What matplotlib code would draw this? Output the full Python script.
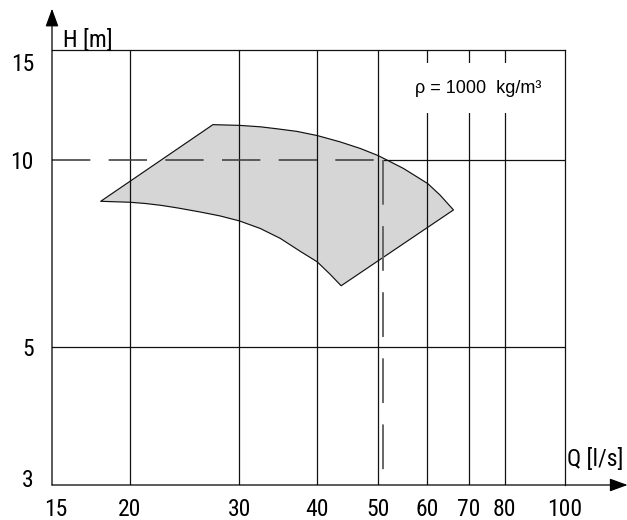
import matplotlib
matplotlib.use("Agg")
import matplotlib.pyplot as plt
from matplotlib.patches import Polygon
import matplotlib.transforms as mtransforms
import matplotlib.font_manager as fm
import numpy as np

# ---- data ----
x_ticks = [15, 20, 30, 40, 50, 60, 70, 80, 100]
x_labels = ["15", "20", "30", "40", "50", "60", "70", "80", "100"]
y_ticks = [3, 5, 10, 15]
y_labels = ["3", "5", "10", "15"]
v_grid = [20, 30, 40, 50, 60, 70, 80]

# upper curve of operating range (Q [l/s], H [m])
top_q = [27.2, 30.0, 32.4, 34.4, 37.1, 40.0, 43.5, 46.9, 50.1, 51.7, 55.0, 60.2, 63.0, 66.2]
top_h = [11.38, 11.35, 11.29, 11.21, 11.10, 10.93, 10.68, 10.42, 10.15, 9.99, 9.68, 9.15, 8.77, 8.30]
# lower curve of operating range, from left point to bottom point
bot_q = [17.96, 20.0, 21.2, 22.5, 23.9, 25.9, 27.9, 30.0, 32.4, 34.9, 37.5, 40.0, 41.9, 43.7]
bot_h = [8.57, 8.54, 8.50, 8.44, 8.36, 8.24, 8.12, 7.97, 7.75, 7.47, 7.13, 6.85, 6.55, 6.27]

duty_q = 51.0
duty_h = 10.0

# ---- font choice: condensed sans if available ----
names = {f.name for f in fm.fontManager.ttflist}
cond = None
for n in ["Liberation Sans Narrow", "Arial Narrow", "Roboto Condensed", "Open Sans Condensed"]:
    if n in names:
        cond = fm.FontProperties(family=n)
        break
if cond is None:
    for f in fm.fontManager.ttflist:
        if f.name == "DejaVu Sans" and str(f.stretch) in ("condensed", "semi-condensed") and f.weight in (400, "normal", "regular"):
            cond = fm.FontProperties(fname=f.fname)
            break
if cond is not None:
    lab_props = cond.copy()
    lab_size = 17
else:
    lab_props = fm.FontProperties(family=["Liberation Sans", "DejaVu Sans"])
    lab_size = 15.5
lab_props.set_size(lab_size)

plt.rcParams["font.family"] = ["Liberation Sans", "DejaVu Sans"]

fig = plt.figure(figsize=(6.27, 5.2), dpi=100)
ax = fig.add_axes([52/627, 35/520, 513/627, 435/520])
ax.set_xscale("log")
ax.set_yscale("log")
ax.set_xlim(15, 100)
ax.set_ylim(3, 15)

# operating range polygon
poly_q = [bot_q[0]] + top_q + bot_q[::-1]
poly_h = [bot_h[0]] + top_h + bot_h[::-1]
ax.add_patch(Polygon(np.column_stack([poly_q, poly_h]), closed=True,
                     facecolor="#d6d6d6", edgecolor="#111111", lw=0.85,
                     joinstyle="round", zorder=1))

# grid
for q in v_grid:
    ax.axvline(q, color="#111111", lw=0.9, zorder=2)
ax.axhline(5, color="#111111", lw=0.9, zorder=2)
ax.plot([duty_q, 100], [duty_h, duty_h], color="#111111", lw=0.9, zorder=2)

# duty point dashed lines
ax.plot([15, duty_q], [duty_h, duty_h], color="#444444", lw=1.2,
        dashes=(23, 11), dash_capstyle="butt", zorder=3)
ax.plot([duty_q, duty_q], [duty_h, 3], color="#666666", lw=1.4,
        dashes=(23, 11), dash_capstyle="butt", zorder=3)

# spines
for s in ["top", "right"]:
    ax.spines[s].set_color("#111111")
    ax.spines[s].set_linewidth(0.9)
ax.spines["left"].set_visible(False)
ax.spines["bottom"].set_visible(False)

ax.annotate("", xy=(0, 1.095), xytext=(0, 0), xycoords="axes fraction",
            arrowprops=dict(arrowstyle="-|>,head_length=1.1,head_width=0.4",
                            color="black", lw=0.9, shrinkA=0, shrinkB=0),
            annotation_clip=False)
ax.annotate("", xy=(1.122, 0), xytext=(0, 0), xycoords="axes fraction",
            arrowprops=dict(arrowstyle="-|>,head_length=1.1,head_width=0.4",
                            color="black", lw=0.9, shrinkA=0, shrinkB=0),
            annotation_clip=False)

# ticks
ax.xaxis.set_minor_locator(matplotlib.ticker.NullLocator())
ax.yaxis.set_minor_locator(matplotlib.ticker.NullLocator())
ax.set_xticks(x_ticks)
ax.set_xticklabels(x_labels)
ax.set_yticks(y_ticks)
ax.set_yticklabels(y_labels)
ax.tick_params(axis="both", length=0)
ax.tick_params(axis="x", pad=9)
ax.tick_params(axis="y", pad=13)
for lab in ax.get_xticklabels() + ax.get_yticklabels():
    lab.set_fontproperties(lab_props)

# nudge edge labels like the reference
for lab in ax.get_xticklabels():
    if lab.get_text() == "15":
        lab.set_transform(lab.get_transform() + mtransforms.ScaledTranslation(4/100, 0, fig.dpi_scale_trans))
for lab in ax.get_yticklabels():
    if lab.get_text() == "15":
        lab.set_transform(lab.get_transform() + mtransforms.ScaledTranslation(0, -12/100, fig.dpi_scale_trans))
    if lab.get_text() == "3":
        lab.set_transform(lab.get_transform() + mtransforms.ScaledTranslation(0, 7/100, fig.dpi_scale_trans))

# axis titles
ax.text(0.021, 1.007, "H [m]", transform=ax.transAxes, ha="left", va="baseline",
        fontproperties=lab_props)
ax.text(1.113, 0.044, "Q [l/s]", transform=ax.transAxes, ha="right", va="baseline",
        fontproperties=lab_props)

# density note
ax.text(0.83, 0.912, "ρ = 1000  kg/m³", transform=ax.transAxes, ha="center",
        va="center", fontsize=13, family=["Liberation Sans", "DejaVu Sans"],
        bbox=dict(facecolor="white", edgecolor="none", pad=12), zorder=5)

fig.savefig("out.png", dpi=100)
